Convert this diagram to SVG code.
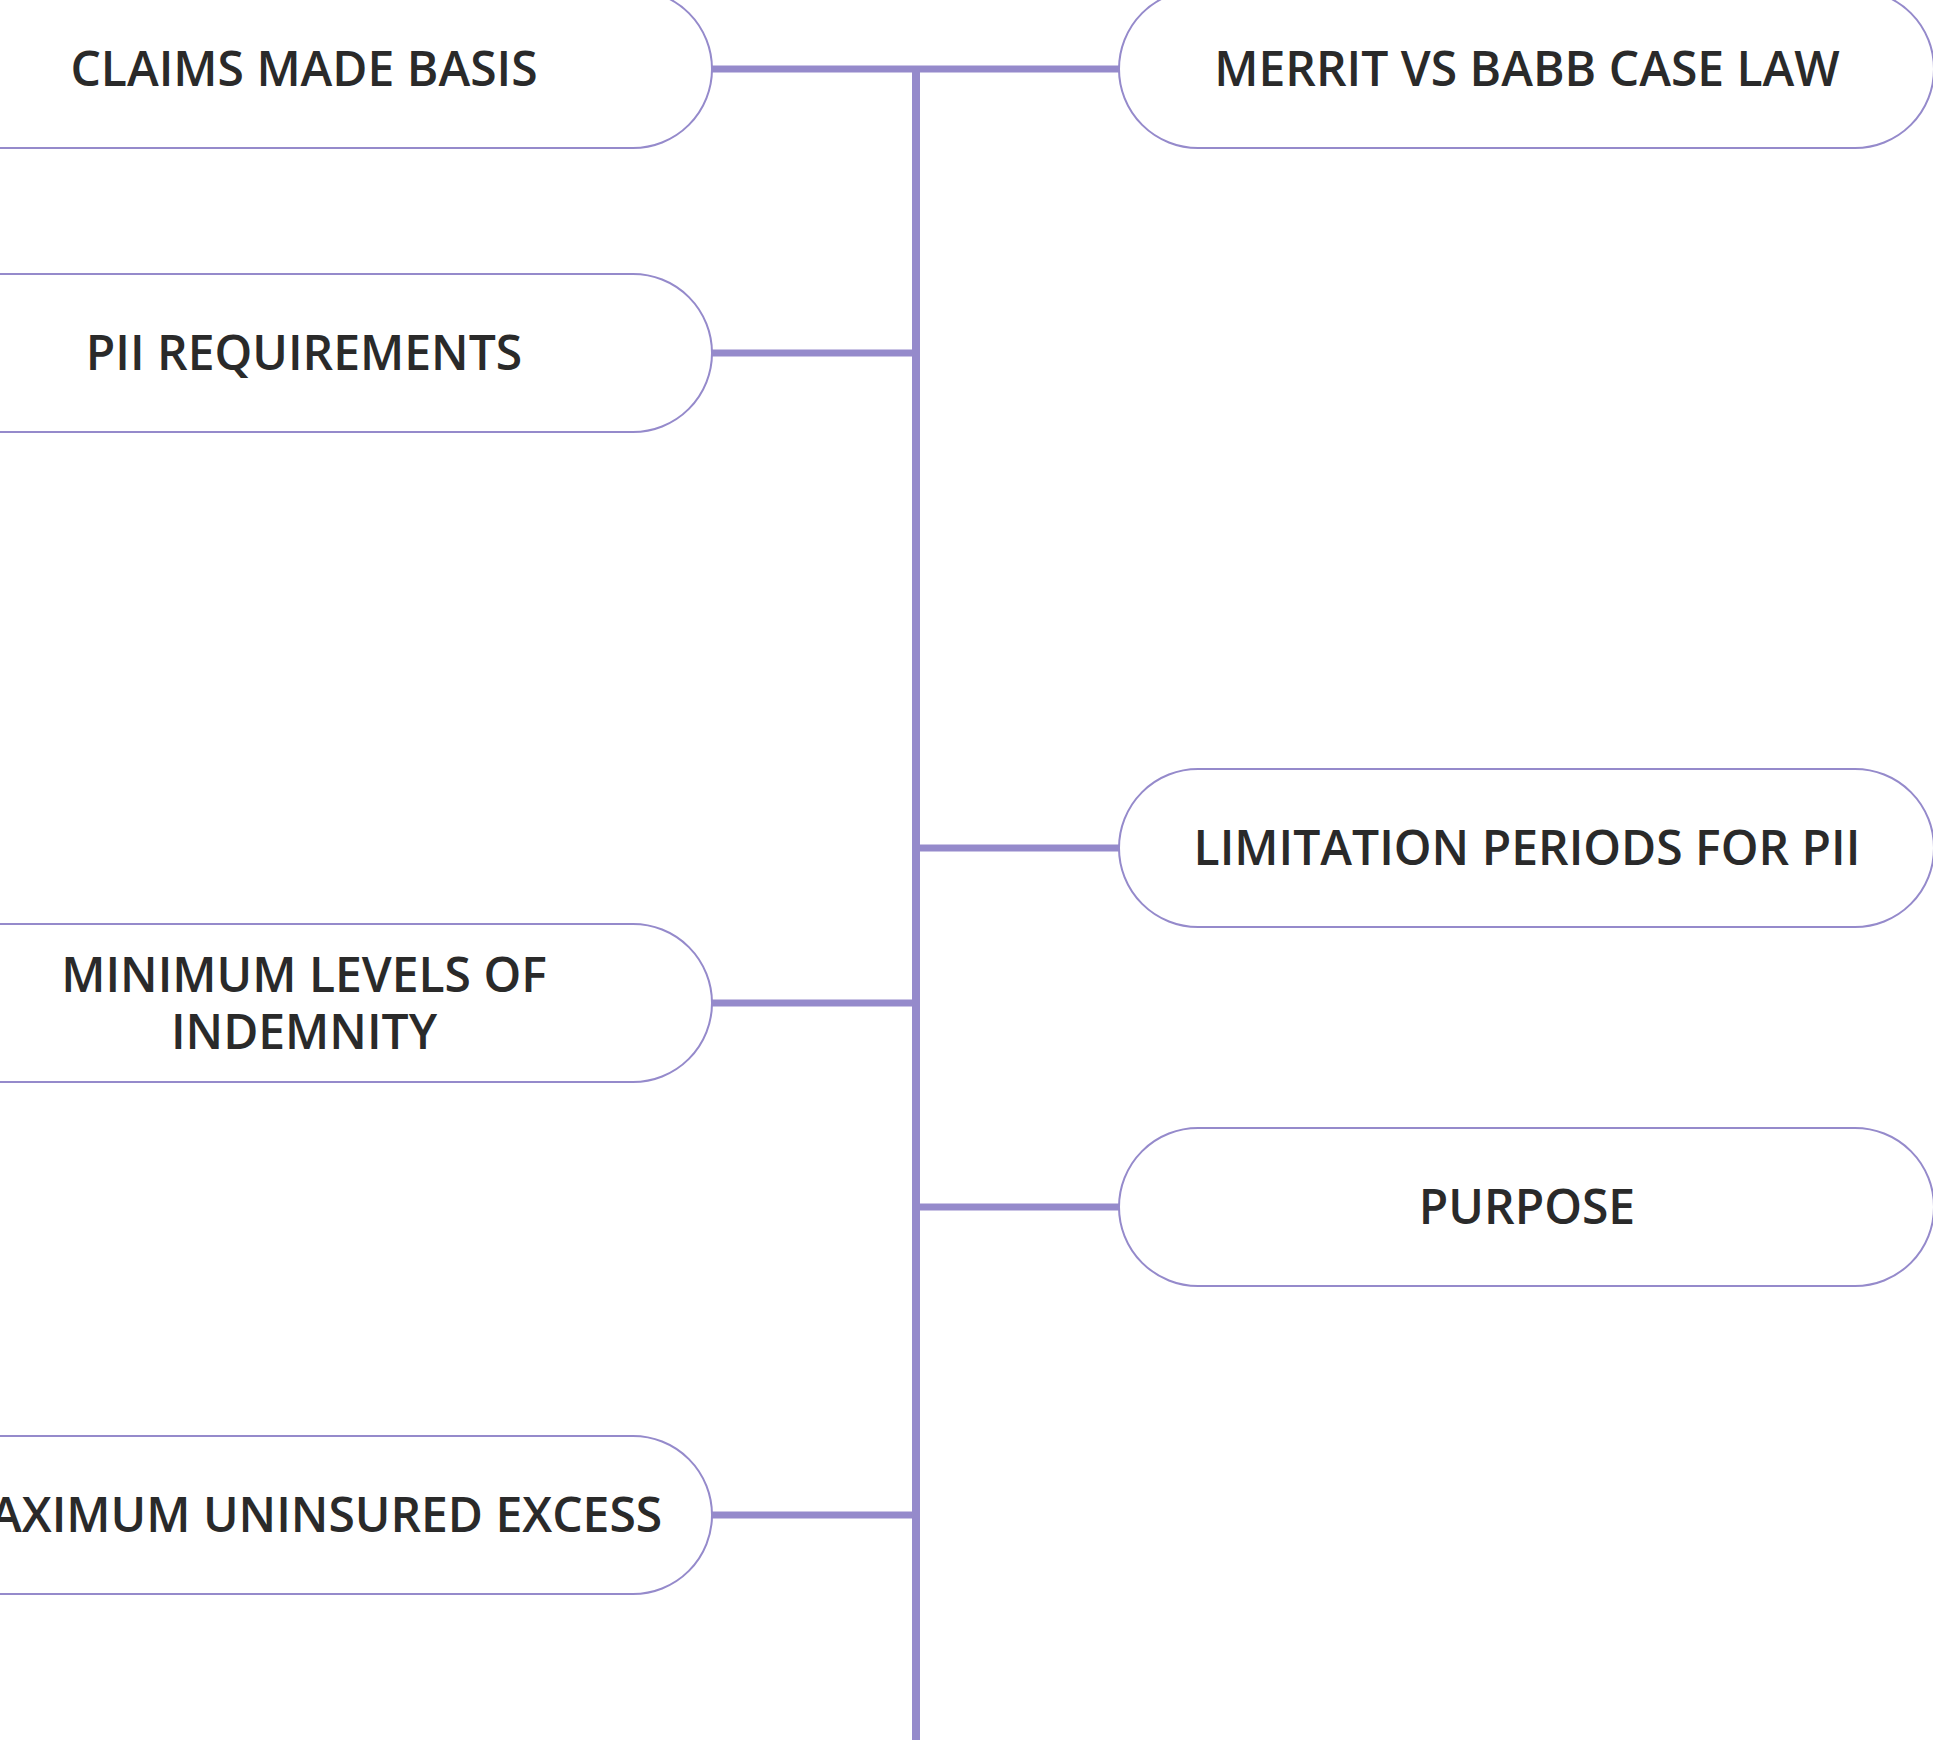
<svg xmlns="http://www.w3.org/2000/svg" width="1933" height="1740" viewBox="0 0 1933 1740">
<style>
.node{fill:#ffffff;stroke:#958acb;stroke-width:2}
.lbl{font-family:"Open Sans","Noto Sans","Liberation Sans",sans-serif;font-weight:600;font-size:48px;fill:#2a2a2a;text-anchor:middle}
.conn{stroke:#958acb;fill:none}
</style>
<rect x="0" y="0" width="1933" height="1740" fill="#ffffff"/>
<g id="connectors">
<line class="conn" stroke-width="8" x1="916" y1="66" x2="916" y2="1740"/>
<line class="conn" stroke-width="7" x1="712" y1="69" x2="1119" y2="69"/>
<line class="conn" stroke-width="7" x1="712" y1="353" x2="916" y2="353"/>
<line class="conn" stroke-width="7" x1="916" y1="848" x2="1119" y2="848"/>
<line class="conn" stroke-width="7" x1="712" y1="1003" x2="916" y2="1003"/>
<line class="conn" stroke-width="7" x1="916" y1="1207" x2="1119" y2="1207"/>
<line class="conn" stroke-width="7" x1="712" y1="1515" x2="916" y2="1515"/>
</g>
<g id="node-claims">
<rect class="node" x="-103" y="-10" width="815" height="158" rx="79" ry="79"/>
<text class="lbl" x="304" y="86">CLAIMS MADE BASIS</text>
</g>
<g id="node-pii">
<rect class="node" x="-103" y="274" width="815" height="158" rx="79" ry="79"/>
<text class="lbl" x="304" y="370">PII REQUIREMENTS</text>
</g>
<g id="node-minimum">
<rect class="node" x="-103" y="924" width="815" height="158" rx="79" ry="79"/>
<text class="lbl" x="304" y="992">MINIMUM LEVELS OF</text>
<text class="lbl" x="304" y="1049">INDEMNITY</text>
</g>
<g id="node-maximum">
<rect class="node" x="-103" y="1436" width="815" height="158" rx="79" ry="79"/>
<text class="lbl" x="304" y="1532">MAXIMUM UNINSURED EXCESS</text>
</g>
<g id="node-merrit">
<rect class="node" x="1119" y="-10" width="815" height="158" rx="79" ry="79"/>
<text class="lbl" x="1527" y="86">MERRIT VS BABB CASE LAW</text>
</g>
<g id="node-limitation">
<rect class="node" x="1119" y="769" width="815" height="158" rx="79" ry="79"/>
<text class="lbl" x="1527" y="865">LIMITATION PERIODS FOR PII</text>
</g>
<g id="node-purpose">
<rect class="node" x="1119" y="1128" width="815" height="158" rx="79" ry="79"/>
<text class="lbl" x="1527" y="1224">PURPOSE</text>
</g>
</svg>
